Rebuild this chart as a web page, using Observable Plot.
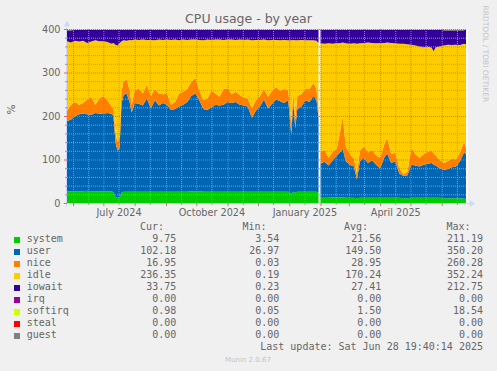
<!DOCTYPE html>
<html>
<head>
<meta charset="utf-8">
<script src="https://cdn.jsdelivr.net/npm/d3@7"></script>
<script src="https://cdn.jsdelivr.net/npm/@observablehq/plot@0.6"></script>
<style>
html, body { margin: 0; padding: 0; background: #F0F0F0; }
#wrap { position: relative; width: 497px; height: 371px; overflow: hidden; background: #F0F0F0; }
#wrap svg { position: absolute; left: 0; top: 0; }
.t { position: absolute; white-space: pre; color: #666666; }
</style>
</head>
<body>
<div id="wrap"></div>
<script>
// ---- data (samples, values in %) ----
const dates = [
"2024-05-26","2024-05-30","2024-06-03","2024-06-07","2024-06-11","2024-06-15","2024-06-19","2024-06-23","2024-06-27","2024-07-01",
"2024-07-05","2024-07-09","2024-07-11","2024-07-13","2024-07-15","2024-07-17","2024-07-19","2024-07-21","2024-07-24","2024-07-27",
"2024-07-29","2024-08-01","2024-08-05","2024-08-09","2024-08-13","2024-08-17","2024-08-21","2024-08-25","2024-08-29","2024-09-02",
"2024-09-06","2024-09-10","2024-09-14","2024-09-18","2024-09-22","2024-09-26","2024-09-30","2024-10-04","2024-10-08","2024-10-12",
"2024-10-16","2024-10-20","2024-10-24","2024-10-28","2024-11-01","2024-11-05","2024-11-09","2024-11-13","2024-11-17","2024-11-21",
"2024-11-25","2024-11-29","2024-12-03","2024-12-07","2024-12-11","2024-12-15","2024-12-19","2024-12-23","2024-12-27","2024-12-31",
"2025-01-03","2025-01-05","2025-01-07","2025-01-09","2025-01-13","2025-01-17","2025-01-21","2025-01-25","2025-01-28","2025-01-30",
"2025-02-01","2025-02-05","2025-02-09","2025-02-13","2025-02-17","2025-02-20","2025-02-23","2025-02-26","2025-03-02","2025-03-06",
"2025-03-09","2025-03-12","2025-03-16","2025-03-20","2025-03-24","2025-03-28","2025-04-01","2025-04-05","2025-04-08","2025-04-12",
"2025-04-16","2025-04-20","2025-04-24","2025-04-28","2025-05-02","2025-05-06","2025-05-10","2025-05-14","2025-05-18","2025-05-22",
"2025-05-24","2025-05-26","2025-05-30","2025-06-03","2025-06-07","2025-06-11","2025-06-15","2025-06-19","2025-06-23","2025-06-25"
];
const system = [
27,27,27,27,27,28,27,27,27,27,
27,27,25,14,12,13,24,26,26,26,
26,26,26,26,26,26,26,26,26,26,
26,26,26,26,26,27,27,27,26,26,
26,26,26,26,26,26,26,26,26,26,
26,26,26,26,26,26,26,26,26,26,
22,26,24,26,26,26,26,26,26,24,
12,12,12,13,13,13,13,12,12,12,
11,12,12,12,12,12,12,12,12,12,
12,12,11,11,12,12,12,12,12,12,
12,12,12,11,11,11,11,11,10,9.75
];
const user = [
161,165,173,177,178,176,176,180,179,178,
180,178,175,126,108,113,204,222,226,206,
182,204,202,198,214,192,210,198,204,200,
188,190,196,200,206,219,225,209,190,188,
194,200,198,200,206,204,206,200,198,196,
170,186,196,212,192,202,212,208,204,210,
136,206,148,190,196,210,206,220,212,172,
78,83,74,85,95,103,111,84,76,72,
43,84,92,80,86,76,68,92,102,80,
84,56,51,53,76,74,72,76,78,80,
76,74,68,65,67,71,73,85,106,102.18
];
const nice = [
24,34,32,22,25,34,41,19,34,41,
29,17,16,22,20,24,30,32,32,28,
18,28,36,28,32,28,26,28,20,26,
12,16,30,30,30,32,36,22,20,26,
38,26,20,36,32,20,24,22,18,18,
22,24,24,24,26,30,28,24,32,24,
24,24,20,30,28,26,30,30,24,20,
28,27,18,20,16,44,74,34,24,18,
14,24,26,24,24,22,24,30,36,20,
20,12,4,8,38,26,20,24,28,28,
26,24,18,16,18,20,16,20,24,16.95
];
const idle = [
160,143,141,145,143,130,127,148,132,126,
134,144,152,202,222,217,114,94,89,115,
148,118,111,124,103,129,112,124,125,124,
149,144,122,120,113,98,88,117,138,136,
117,124,132,113,112,126,119,128,133,136,
156,139,129,114,130,117,109,116,113,114,
192,119,182,128,125,112,112,98,111,152,
249,244,263,248,244,207,171,237,254,265,
298,247,238,253,246,257,264,234,219,256,
251,286,300,293,238,250,256,246,242,237,
235,248,262,270,268,261,264,247,226,236.35
];
const iowait = [
25,28,24.5,27.5,25.5,30.5,27.5,24.5,26.5,26.5,
28.5,32.5,30.5,34.5,36.5,31.5,26.5,24.5,25.5,23.5,
24.5,22.5,23.5,22.5,23.5,23.5,24.5,22.5,23.5,22.5,
23.5,22.5,24.5,22.5,23.5,22.5,22.5,23.5,24.5,22.5,
23.5,22.5,22.5,23.5,22.5,22.5,23.5,22.5,23.5,22.5,
24.5,23.5,23.5,22.5,24.5,23.5,23.5,24.5,23.5,24.5,
24.5,23.5,24.5,24.5,23.5,24.5,24.5,24.5,25.5,30.5,
31.5,32.5,31.5,32.5,30.5,31.5,29.5,31.5,32.5,31.5,
32.5,31.5,30.5,29.5,30.5,31.5,30.5,30.5,29.5,30.5,
31.5,32.5,32.5,33.5,34.5,36.5,38.5,40.5,38.5,41.5,
49.5,40.5,38.5,35,33,34,33,34,31,33.75
];
const softirq = [
3,3,2.5,1.5,1.5,1.5,1.5,1.5,1.5,1.5,
1.5,1.5,1.5,1.5,1.5,1.5,1.5,1.5,1.5,1.5,
1.5,1.5,1.5,1.5,1.5,1.5,1.5,1.5,1.5,1.5,
1.5,1.5,1.5,1.5,1.5,1.5,1.5,1.5,1.5,1.5,
1.5,1.5,1.5,1.5,1.5,1.5,1.5,1.5,1.5,1.5,
1.5,1.5,1.5,1.5,1.5,1.5,1.5,1.5,1.5,1.5,
1.5,1.5,1.5,1.5,1.5,1.5,1.5,1.5,1.5,1.5,
1.5,1.5,1.5,1.5,1.5,1.5,1.5,1.5,1.5,1.5,
1.5,1.5,1.5,1.5,1.5,1.5,1.5,1.5,1.5,1.5,
1.5,1.5,1.5,1.5,1.5,1.5,1.5,1.5,1.5,1.5,
1.5,1.5,1.5,3,3,3,3,3,3,0.98
];
// no data between this sample and the next one (white gap in the graph)
const gapAfter = "2025-01-30";

const seriesNames  = ["system","user","nice","idle","iowait","softirq"];
const seriesColors = ["#00CC00","#0066B3","#FF8000","#FFCC00","#330099","#CCFF00"];

// legend
const legendNames  = ["system","user","nice","idle","iowait","irq","softirq","steal","guest"];
const legendColors = ["#00CC00","#0066B3","#FF8000","#FFCC00","#330099","#990099","#CCFF00","#FF0000","#808080"];
const curVals = ["9.75","102.18","16.95","236.35","33.75","0.00","0.98","0.00","0.00"];
const minVals = ["3.54","26.97","0.03","0.19","0.23","0.00","0.05","0.00","0.00"];
const avgVals = ["21.56","149.50","28.95","170.24","27.41","0.00","1.50","0.00","0.00"];
const maxVals = ["211.19","350.20","260.28","352.24","212.75","0.00","18.54","0.00","0.00"];
const legendHeaders = ["Cur:","Min:","Avg:","Max:"];
const lastUpdate = "Last update: Sat Jun 28 19:40:14 2025";

// axes
const xDomain = ["2024-05-26","2025-06-26"];
const yTicks = [0,100,200,300,400];
const yMinor = [20,40,60,80,120,140,160,180,220,240,260,280,320,340,360,380];
const xMajor = ["2024-06-01","2024-07-01","2024-08-01","2024-09-01","2024-10-01","2024-11-01","2024-12-01",
                "2025-01-01","2025-02-01","2025-03-01","2025-04-01","2025-05-01","2025-06-01"];
const xMinor = ["2024-06-16","2024-07-16","2024-08-16","2024-09-16","2024-10-16","2024-11-16","2024-12-16",
                "2025-01-16","2025-02-16","2025-03-16","2025-04-16","2025-05-16","2025-06-16"];
const xLabels = ["2024-07-16","2024-10-16","2025-01-16","2025-04-16"];

// ---- build ----
const parse = d3.utcParse("%Y-%m-%d");
const seriesValues = [system, user, nice, idle, iowait, softirq];
const gapT = parse(gapAfter);
const rows = [];
dates.forEach((d, i) => {
  const t = parse(d);
  seriesNames.forEach((s, k) => rows.push({date: t, series: s, value: seriesValues[k][i], seg: t <= gapT ? 0 : 1}));
});
const seg0 = rows.filter(r => r.seg === 0);
const seg1 = rows.filter(r => r.seg === 1);

const x0 = parse(xDomain[0]), x1 = parse(xDomain[1]);
const GRID = "#9a9a9a", MGRID = "#e06666", AXIS = "#CFD6F8";
const areaOpts = {x: "date", y: "value", fill: "series", curve: "linear"};
const dotted = {strokeDasharray: "1,1", strokeWidth: 1};

const chart = Plot.plot({
  width: 497, height: 371,
  marginLeft: 67, marginRight: 30, marginTop: 29, marginBottom: 168,
  x: {type: "utc", domain: [x0, x1]},
  y: {domain: [0, 400]},
  color: {domain: seriesNames, range: seriesColors},
  style: {background: "transparent", color: "#666666", fontFamily: "DejaVu Sans", fontSize: "9.7px"},
  marks: [
    Plot.frame({fill: "#FFFFFF", stroke: "none"}),
    Plot.areaY(seg0, Plot.stackY(areaOpts)),
    Plot.areaY(seg1, Plot.stackY(areaOpts)),
    // axis lines and arrows
    Plot.ruleY([0], {stroke: AXIS, insetLeft: -4, insetRight: -3}),
    Plot.ruleX([x0], {stroke: AXIS, insetTop: -4, insetBottom: -4, dx: -1}),
    Plot.dot([x1], {x: d => d, y: 0, dx: 4, symbol: "triangle", rotate: 90, r: 2.4, fill: AXIS, stroke: "none"}),
    Plot.dot([x0], {x: d => d, y: 400, dx: -0.5, dy: -5, symbol: "triangle", r: 2.4, fill: AXIS, stroke: "none"}),
    // tick marks on the axes
    Plot.ruleX(xMajor.map(parse), {y1: 0, y2: 0, insetBottom: -3, stroke: MGRID}),
    Plot.ruleX(xMinor.map(parse), {y1: 0, y2: 0, insetBottom: -2, stroke: GRID}),
    Plot.ruleY(yTicks, {x1: x0, x2: x0, insetLeft: -3, stroke: MGRID}),
    Plot.ruleY(yMinor, {x1: x0, x2: x0, insetLeft: -2, stroke: GRID}),
    // axis labels
    Plot.axisY(yTicks, {tickSize: 0, tickPadding: 7, label: null}),
    Plot.axisX(xLabels.map(parse), {tickSize: 0, tickPadding: 6, label: null, tickFormat: d3.utcFormat("%B %Y")}),
    Plot.text(["%"], {text: d => d, frameAnchor: "left", dx: -56, dy: -2, rotate: -90, fontSize: 10.5}),
    Plot.text(["RRDTOOL / TOBI OETIKER"], {text: d => d, frameAnchor: "top-right", dx: 20.5, dy: -24,
      rotate: 90, textAnchor: "start", fontSize: 7.5, fill: "#c4c4c4"}),
    // grid drawn over the data, as rrdtool does
    Plot.ruleY(yMinor, {stroke: GRID, ...dotted}),
    Plot.ruleX(xMinor.map(parse), {stroke: GRID, ...dotted}),
    Plot.ruleY(yTicks.filter(v => v > 0), {stroke: MGRID, ...dotted}),
    Plot.ruleX(xMajor.map(parse), {stroke: MGRID, ...dotted})
  ]
});

const wrap = document.getElementById("wrap");
wrap.appendChild(chart);

function addText(str, css) {
  const el = document.createElement("div");
  el.className = "t";
  el.textContent = str;
  Object.assign(el.style, css);
  wrap.appendChild(el);
  return el;
}
const MONO = "10px/1 'DejaVu Sans Mono', monospace";

addText("CPU usage - by year", {left: "0px", width: "497px", textAlign: "center", top: "13.4px",
  font: "12.5px/1 'DejaVu Sans', sans-serif"});

const headerLeft = [140, 242.5, 344, 446.5];
legendHeaders.forEach((h, j) => addText(h, {left: headerLeft[j] + "px", top: "222.2px", font: MONO}));

const colRight = [176.3, 279.3, 381.3, 483];
const cols = [curVals, minVals, avgVals, maxVals];
legendNames.forEach((name, i) => {
  const top = 234.2 + 12 * i;
  const sw = document.createElement("div");
  Object.assign(sw.style, {position: "absolute", left: "14px", top: (237.3 + 12 * i) + "px",
    width: "6px", height: "6px", background: legendColors[i]});
  wrap.appendChild(sw);
  addText(name, {left: "26.7px", top: top + "px", font: MONO});
  cols.forEach((c, j) => addText(c[i], {right: (497 - colRight[j]) + "px", top: top + "px", font: MONO}));
});
addText(lastUpdate, {right: (497 - 483) + "px", top: (234.2 + 12 * 9) + "px", font: MONO});
addText("Munin 2.0.67", {left: "0px", width: "496px", textAlign: "center", top: "357.1px",
  font: "7px/1 'DejaVu Sans', sans-serif", color: "#c4c4c4"});
</script>
</body>
</html>
